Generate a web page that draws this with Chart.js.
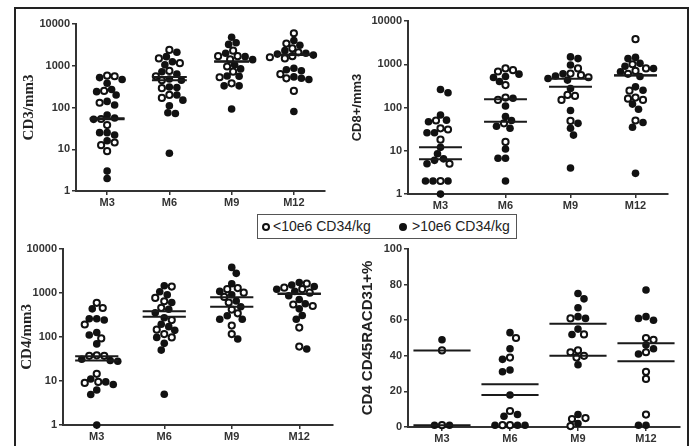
<!DOCTYPE html>
<html>
<head>
<meta charset="utf-8">
<script src="https://cdn.jsdelivr.net/npm/chart.js@4.4.0/dist/chart.umd.min.js"></script>
<style>
  body { margin: 0; background: #fff; width: 693px; height: 446px; overflow: hidden; position: relative; }
  #frame { position: absolute; left: 14px; top: 7px; width: 671px; height: 450px; border: 2px solid #222; }
  canvas { position: absolute; }
  #legend { position: absolute; left: 257px; top: 214px; width: 258px; height: 23px; border: 1px solid #555;
            background: #fff; font-family: "Liberation Sans", Arial, sans-serif; font-size: 14px; color: #222;
            z-index: 5; white-space: nowrap; }
  #legend span { position: absolute; top: 3px; line-height: 17px; }
  #legend span.mk { top: 8px; width: 4px; height: 4px; border-radius: 50%; border: 2px solid #111; }
  #legend span.mk.f { background: #111; }
</style>
</head>
<body>
<div id="frame"></div>
<canvas id="cd3"></canvas>
<canvas id="cd8"></canvas>
<canvas id="cd4"></canvas>
<canvas id="rte"></canvas>
<div id="legend">
  <span class="mk" style="left:4px"></span><span style="left:15px">&lt;10e6 CD34/kg</span>
  <span class="mk f" style="left:141px"></span><span style="left:154px">&gt;10e6 CD34/kg</span>
</div>
<script>
const months = ['M3', 'M6', 'M9', 'M12'];
const logTicks = [1, 10, 100, 1000, 10000];
const pctTicks = [0, 20, 40, 60, 80, 100];

// CD3/mm3  (low = <10e6 CD34/kg, open; high = >10e6 CD34/kg, filled)
const cd3Low = [
  [580, 560, 250, 130, 53, 38, 14.5, 12.5, 9],
  [2400, 1500, 1150, 750, 560, 450, 290, 200, 170],
  [2300, 1700, 1700, 1420, 960, 720, 530, 380],
  [6000, 3400, 2600, 2100, 1700, 1600, 1500, 630, 500, 250]
];
const cd3High = [
  [520, 470, 380, 270, 240, 200, 140, 115, 66, 56, 52, 25, 25, 22, 16, 3, 2],
  [2100, 1650, 1250, 1050, 720, 630, 480, 450, 310, 300, 200, 150, 110, 75, 72, 8],
  [4800, 3560, 3250, 2000, 1650, 1400, 1050, 840, 570, 560, 330, 330, 92],
  [4000, 3100, 2300, 2000, 1900, 1800, 870, 800, 760, 540, 500, 470, 80]
];
const cd3LowMed = [55, 540, 1250, 1850];
const cd3HighMed = [52, 450, 1280, 1800];

// CD8+/mm3
const cd8Low = [
  [50, 33, 31, 18, 5, 2],
  [800, 730, 680, 330, 170, 150, 43, 16],
  [800, 610, 560, 500, 195, 185, 150, 49],
  [3800, 1000, 800, 700, 600, 245, 170, 160, 150, 50]
];
const cd8High = [
  [260, 220, 67, 51, 47, 26, 26, 12, 8.5, 6.5, 6, 5, 2, 2, 2, 1],
  [590, 520, 495, 400, 163, 108, 62, 50, 37, 33, 11, 6.7, 6.7, 2],
  [1480, 1350, 960, 600, 535, 470, 430, 275, 85, 43, 33, 23, 4],
  [1440, 1350, 1050, 900, 800, 670, 520, 300, 250, 120, 91, 45, 35, 3]
];
const cd8LowMed = [12, 155, 460, 560];
const cd8HighMed = [6.4, 47, 300, 550];

// CD4/mm3
const cd4Low = [
  [590, 450, 190, 92, 38, 37, 37, 14.5, 9.5, 9],
  [1380, 760, 640, 455, 240, 145, 115, 97],
  [1270, 1200, 1000, 800, 600, 415, 340, 180, 115],
  [1600, 1300, 1200, 1000, 540, 500, 162, 60]
];
const cd4High = [
  [430, 256, 256, 240, 125, 110, 69, 31, 29, 28, 11, 9.5, 8.3, 6.2, 4.9, 1],
  [1440, 1050, 900, 600, 420, 350, 270, 192, 170, 140, 97, 71, 50, 5],
  [3750, 2750, 1600, 1070, 900, 650, 480, 300, 250, 250, 89],
  [1700, 1500, 1380, 1200, 1070, 850, 700, 560, 430, 305, 250, 53]
];
const cd4LowMed = [36, 380, 790, 960];
const cd4HighMed = [29, 285, 480, 940];

// CD4 CD45RA CD31+ %
const rteLow = [
  [43, 1],
  [50, 39, 9, 1, 1],
  [61, 52, 43, 42, 40, 39, 5, 4.5, 0.5],
  [50, 49, 42, 31, 27, 7]
];
const rteHigh = [
  [49, 1, 1],
  [53, 44, 38, 32, 31, 18, 7, 6, 1, 1, 1],
  [75, 72, 67, 62, 61, 55, 52, 35, 7, 2],
  [77, 62, 61, 60, 46, 44, 41, 1, 1]
];
const rteLowMed = [43, 24, 58, 47];
const rteHighMed = [1, 18, 40, 37];

const SANS = '"Liberation Sans", Arial, sans-serif';
const SERIF = '"Liberation Serif", "Times New Roman", serif';
const INK = '#111';
const AX = '#333';

const panels = [
  { id: 'cd3', title: 'CD3/mm3', font: SERIF, titleSize: 15, titlePad: 4, log: true,
    low: cd3Low, high: cd3High, lowMed: cd3LowMed, highMed: cd3HighMed,
    box: [16, 9, 335, 215], area: [76, 24, 325, 191], half: 0.28 },
  { id: 'cd8', title: 'CD8+/mm3', font: SANS, titleSize: 13, titlePad: 5, log: true,
    low: cd8Low, high: cd8High, lowMed: cd8LowMed, highMed: cd8HighMed,
    box: [345, 9, 685, 215], area: [408, 21, 668, 194], half: 0.33 },
  { id: 'cd4', title: 'CD4/mm3', font: SERIF, titleSize: 15, titlePad: 2, log: true,
    low: cd4Low, high: cd4High, lowMed: cd4LowMed, highMed: cd4HighMed,
    box: [16, 240, 340, 446], area: [63, 247, 333, 425], half: 0.32 },
  { id: 'rte', title: 'CD4 CD45RACD31+%', font: SANS, titleSize: 15, titlePad: 14, log: false,
    low: rteLow, high: rteHigh, lowMed: rteLowMed, highMed: rteHighMed,
    box: [345, 240, 686, 446], area: [408, 249, 680, 427], half: 0.42 }
];

// spread the points of one column sideways so they do not overlap too much (beeswarm)
function swarm(p) {
  const plotH = p.area[3] - p.area[1];
  const colW = (p.area[2] - p.area[0]) / 4;
  const toPx = p.log ? v => Math.log10(v) / 4 * plotH : v => v / 100 * plotH;
  const d = 7;
  const maxOff = colW * 0.4;
  const out = [[], []];
  months.forEach((m, i) => {
    const pts = [];
    p.low[i].forEach(v => pts.push({ v, g: 0, py: toPx(v) }));
    p.high[i].forEach(v => pts.push({ v, g: 1, py: toPx(v) }));
    pts.sort((a, b) => b.py - a.py);
    const placed = [];
    pts.forEach((q, k) => {
      const sign = k % 2 ? 1 : -1;
      let off = 0;
      for (let s = 0; s < 80; s++) {
        const c = s === 0 ? 0 : Math.ceil(s / 2) * 1.5 * (s % 2 ? sign : -sign);
        if (Math.abs(c) > maxOff) continue;
        if (placed.every(o => (o.px - c) ** 2 + (o.py - q.py) ** 2 >= d * d)) { off = c; break; }
      }
      placed.push({ px: off, py: q.py });
      out[q.g].push({ x: i + 1 + off / colW, y: q.v });
    });
  });
  return out;
}

function medianLine(meds, half) {
  const data = [];
  meds.forEach((m, i) => {
    data.push({ x: i + 1 - half, y: m }, { x: i + 1 + half, y: m }, { x: i + 1, y: null });
  });
  return data;
}

function buildPanel(p) {
  const canvas = document.getElementById(p.id);
  const [cx0, cy0, cx1, cy1] = p.box;
  const [ax0, ay0, ax1, ay1] = p.area;
  canvas.width = cx1 - cx0;
  canvas.height = cy1 - cy0;
  canvas.style.left = cx0 + 'px';
  canvas.style.top = cy0 + 'px';
  const [openPts, fillPts] = swarm(p);
  const tickFont = { family: SANS, size: 11, weight: 'bold' };
  const gridCfg = { drawOnChartArea: false, drawTicks: true, tickLength: 4, color: AX, lineWidth: 1.5 };

  new Chart(canvas, {
    type: 'scatter',
    data: {
      datasets: [
        { type: 'line', data: medianLine(p.lowMed, p.half), borderColor: '#1a1a1a', borderWidth: 2,
          pointRadius: 0, spanGaps: false, order: 0, clip: false },
        { type: 'line', data: medianLine(p.highMed, p.half), borderColor: '#1a1a1a', borderWidth: 2,
          pointRadius: 0, spanGaps: false, order: 0, clip: false },
        { data: openPts, pointRadius: 3.1, pointBackgroundColor: '#fff', pointBorderColor: INK,
          pointBorderWidth: 2, order: 1, clip: false },
        { data: fillPts, pointRadius: 3.8, pointBackgroundColor: INK, pointBorderColor: INK,
          pointBorderWidth: 0, order: 2, clip: false }
      ]
    },
    options: {
      responsive: false,
      animation: false,
      events: [],
      layout: { padding: { top: ay0 - cy0, right: cx1 - ax1, left: 0, bottom: 0 } },
      plugins: { legend: { display: false }, tooltip: { enabled: false } },
      scales: {
        x: {
          type: 'linear', min: 0.5, max: 4.5,
          afterBuildTicks: s => { s.ticks = months.map((m, i) => ({ value: i + 1 })); },
          afterFit: s => { s.height = cy1 - ay1; },
          ticks: { callback: v => months[v - 1], font: tickFont, color: AX, padding: 1,
                   maxRotation: 0, autoSkip: false },
          grid: gridCfg,
          border: { color: AX, width: 2 }
        },
        y: {
          type: p.log ? 'logarithmic' : 'linear',
          min: p.log ? 1 : 0, max: p.log ? 10000 : 100,
          afterBuildTicks: s => { s.ticks = (p.log ? logTicks : pctTicks).map(v => ({ value: v })); },
          afterFit: s => { s.width = ax0 - cx0; },
          ticks: { callback: v => String(v), font: tickFont, color: AX, padding: 2, autoSkip: false },
          title: { display: true, text: p.title, color: '#222',
                   font: { family: p.font, size: p.titleSize, weight: 'bold' },
                   padding: { top: p.titlePad, bottom: 0 } },
          grid: gridCfg,
          border: { color: AX, width: 2 }
        }
      }
    }
  });
}

panels.forEach(buildPanel);
</script>
</body>
</html>
